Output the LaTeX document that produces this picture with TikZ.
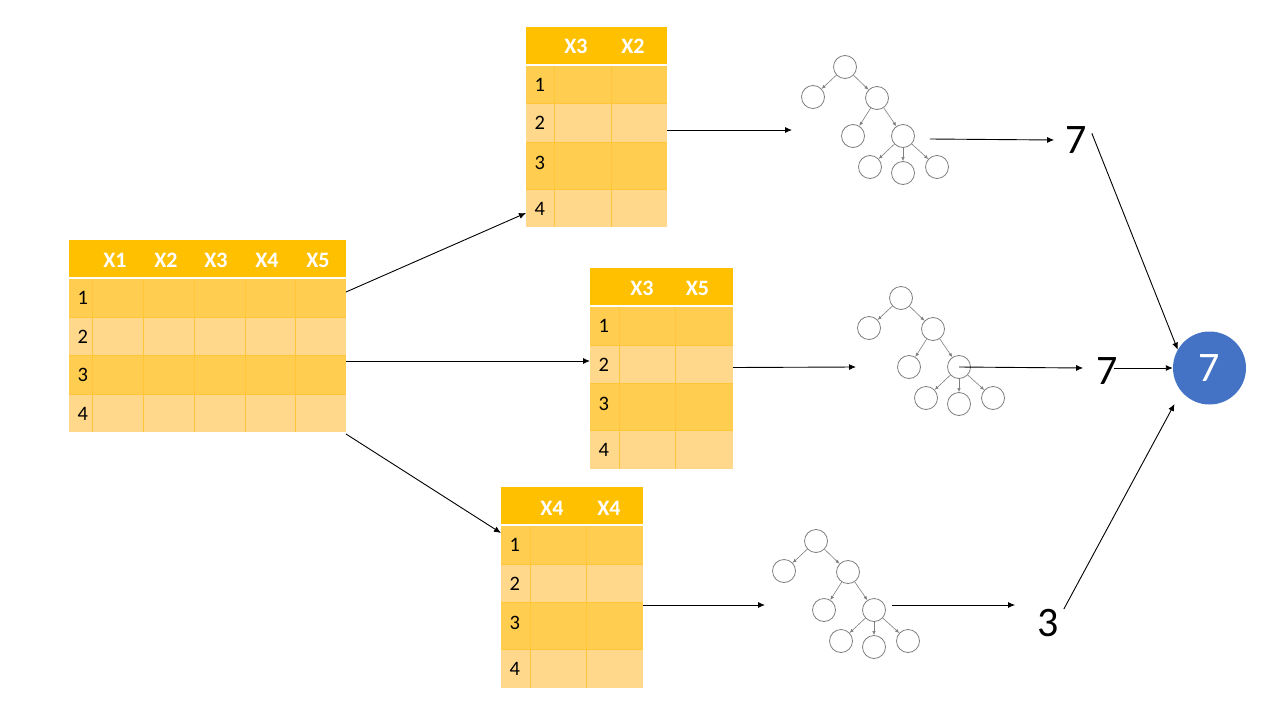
\documentclass[tikz,border=0pt]{standalone}
\usepackage{fontspec}
\setmainfont{Carlito}
\usetikzlibrary{arrows.meta}
\definecolor{hdr}{HTML}{FFC000}
\definecolor{rowA}{HTML}{FFCD50}
\definecolor{rowB}{HTML}{FFD88C}
\definecolor{gridc}{HTML}{FFC63A}
\definecolor{treec}{HTML}{7F7F7F}
\definecolor{blue7}{HTML}{4472C4}
\tikzset{
  tabbox/.style={inner sep=0pt, outer sep=0pt, anchor=north west},
  gridl/.style={draw=gridc, line width=0.7pt},
  sepl/.style={draw=white, line width=1.5pt},
  hd/.style={text=white, font=\bfseries\fontsize{22}{24}\selectfont, inner sep=0pt},
  rn/.style={text=black, font=\fontsize{20.5}{23}\selectfont, inner sep=0pt, anchor=west},
  big/.style={text=black, font=\fontsize{42}{46}\selectfont, inner sep=0pt},
  tn/.style={circle, draw=treec, line width=0.8pt, minimum size=23pt, inner sep=0pt},
  te/.style={draw=treec, line width=0.6pt, -{Latex[length=4pt,width=3.5pt]}},
  ar/.style={draw=black, line width=0.9pt, -{Latex[length=7pt,width=6pt]}},
}
\newcommand{\mytree}[3]{%
  \begin{scope}[shift={(#2,#3)}]
    \node[tn] (#1r) at (0,0) {};
    \node[tn] (#1l) at (-32,30) {};
    \node[tn] (#1m) at (32,31) {};
    \node[tn] (#1ml) at (8,69) {};
    \node[tn] (#1mr) at (58,69) {};
    \node[tn] (#1a) at (25,100) {};
    \node[tn] (#1b) at (58,106) {};
    \node[tn] (#1c) at (92,100) {};
    \draw[te] (#1r) -- (#1l);
    \draw[te] (#1r) -- (#1m);
    \draw[te] (#1m) -- (#1ml);
    \draw[te] (#1m) -- (#1mr);
    \draw[te] (#1mr) -- (#1a);
    \draw[te] (#1mr) -- (#1b);
    \draw[te] (#1mr) -- (#1c);
  \end{scope}}
\begin{document}
\begin{tikzpicture}[x=1pt,y=-1pt]
\useasboundingbox (0,0) rectangle (1280,720);
\fill[white] (0,0) rectangle (1280,720);

% ---------- main table ----------
\fill[hdr] (69,240) rectangle (346,278);
\foreach \a/\b/\c in {278/317/rowA,317/355/rowB,355/394/rowA,394/432/rowB}
  \fill[\c] (69,\a) rectangle (346,\b);
\foreach \x in {92,143,194,245,295} \draw[gridl] (\x,278) -- (\x,432);
\foreach \y in {317,355,394} \draw[gridl] (69,\y) -- (346,\y);
\draw[sepl] (69,278) -- (346,278);
\foreach \x/\t in {115/X1,166/X2,216/X3,267/X4,318/X5} \node[hd] at (\x,260) {\t};
\foreach \y/\t in {298/1,336.5/2,375/3,413.5/4} \node[rn] at (77.5,\y) {\t};
\node[tabbox, minimum width=277pt, minimum height=192pt] (mainT) at (69,240) {};

% ---------- top table ----------
\fill[hdr] (526,27) rectangle (667,65);
\foreach \a/\b/\c in {65/103/rowA,103/142/rowB,142/189/rowA,189/227/rowB}
  \fill[\c] (526,\a) rectangle (667,\b);
\foreach \x in {554,611} \draw[gridl] (\x,65) -- (\x,227);
\foreach \y in {103,142,189} \draw[gridl] (526,\y) -- (667,\y);
\draw[sepl] (526,65) -- (667,65);
\foreach \x/\t in {576/X3,633/X2} \node[hd] at (\x,46.5) {\t};
\foreach \y/\t in {84.5/1,123/2,163/3,209/4} \node[rn] at (534.5,\y) {\t};
\node[tabbox, minimum width=141pt, minimum height=200pt] (topT) at (526,27) {};

% ---------- middle table ----------
\fill[hdr] (590,268) rectangle (733,306);
\foreach \a/\b/\c in {306/345/rowA,345/383/rowB,383/430/rowA,430/469/rowB}
  \fill[\c] (590,\a) rectangle (733,\b);
\foreach \x in {619,675} \draw[gridl] (\x,306) -- (\x,469);
\foreach \y in {345,383,430} \draw[gridl] (590,\y) -- (733,\y);
\draw[sepl] (590,306) -- (733,306);
\foreach \x/\t in {642/X3,697.5/X5} \node[hd] at (\x,288.5) {\t};
\foreach \y/\t in {326/1,365/2,404/3,450/4} \node[rn] at (598.5,\y) {\t};
\node[tabbox, minimum width=143pt, minimum height=201pt] (midT) at (590,268) {};

% ---------- bottom table ----------
\fill[hdr] (501,487) rectangle (643,525);
\foreach \a/\b/\c in {525/564/rowA,564/602/rowB,602/649/rowA,649/688/rowB}
  \fill[\c] (501,\a) rectangle (643,\b);
\foreach \x in {530,586} \draw[gridl] (\x,525) -- (\x,688);
\foreach \y in {564,602,649} \draw[gridl] (501,\y) -- (643,\y);
\draw[sepl] (501,525) -- (643,525);
\foreach \x/\t in {552/X4,609/X4} \node[hd] at (\x,508) {\t};
\foreach \y/\t in {545/1,584/2,623/3,669/4} \node[rn] at (509.5,\y) {\t};
\node[tabbox, minimum width=142pt, minimum height=201pt] (botT) at (501,487) {};

% ---------- trees ----------
\mytree{t1}{845}{67}
\mytree{t2}{901}{298}
\mytree{t3}{816}{541}
\coordinate (in1) at (792,130);
\coordinate (in2) at (856,367);
\coordinate (in3) at (765,605);

% ---------- results ----------
\node[big] (n1) at (1076,140) {7};
\node[big] (n2) at (1107,371) {7};
\node[big] (n3) at (1048,623) {3};
\node[circle, fill=blue7, minimum size=73pt, inner sep=0pt, text=white,
      font=\fontsize{42}{46}\selectfont] (res) at (1209.5,368) {7};

% ---------- connectors ----------
\draw[ar] ([yshift=-52pt]mainT.north east) -- ([yshift=14pt]topT.south west);
\draw[ar] ([yshift=-25pt]mainT.east) -- ([yshift=7.5pt]midT.west);
\draw[ar] ([yshift=-2pt]mainT.south east) -- ([yshift=-46pt]botT.north west);

\draw[ar] ([yshift=-103pt]topT.north east) -- (in1);
\draw[ar] ([yshift=1pt]midT.east) -- (in2);
\draw[ar] ([yshift=-17.5pt]botT.east) -- (in3);

\draw[ar] ([shift={(15pt,-3pt)}]t1mr.east) -- ([xshift=-11pt]n1.west);
\draw[ar] (t2mr.center) -- ([xshift=-13pt,yshift=3pt]n2.west);
\draw[ar] ([shift={(6.5pt,5pt)}]t3mr.east) -- ([xshift=-22pt,yshift=18pt]n3.west);

\draw[ar] ([shift={(5pt,-7pt)}]n1.north east) -- (res.150);
\draw[ar] ([xshift=-4pt]n2.east |- res.west) -- (res.west);
\draw[ar] ([xshift=5pt]n3.north east) -- ([xshift=-35pt,yshift=-36pt]res.center);
\end{tikzpicture}
\end{document}
